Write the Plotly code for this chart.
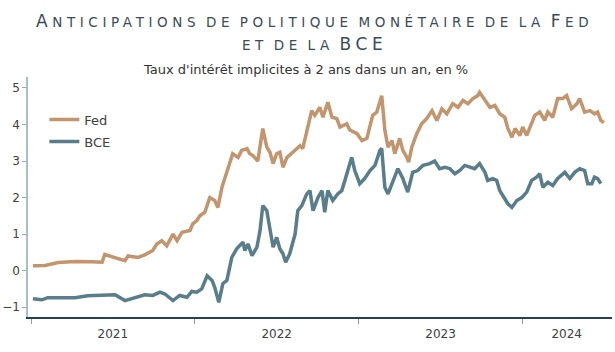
import plotly.graph_objects as go

# ---- data ----
fed_dates = [
    "2021-01-05", "2021-02-01", "2021-03-02", "2021-04-09", "2021-05-16", "2021-06-08", "2021-06-14",
    "2021-06-30", "2021-07-22", "2021-07-29", "2021-08-05", "2021-08-27", "2021-09-11", "2021-09-29",
    "2021-10-08", "2021-10-19", "2021-10-30", "2021-11-13", "2021-11-22", "2021-12-03", "2021-12-21",
    "2021-12-27", "2022-01-05", "2022-01-12", "2022-01-23", "2022-02-03", "2022-02-14", "2022-02-21",
    "2022-03-02", "2022-03-13", "2022-03-20", "2022-03-26", "2022-04-07", "2022-04-15", "2022-04-27",
    "2022-05-03", "2022-05-10", "2022-05-21", "2022-06-01", "2022-06-10", "2022-06-17", "2022-06-24",
    "2022-07-02", "2022-07-09", "2022-07-16", "2022-07-25", "2022-08-07", "2022-08-23", "2022-08-29",
    "2022-09-09", "2022-09-18", "2022-09-25", "2022-10-06", "2022-10-13", "2022-10-24", "2022-11-02",
    "2022-11-13", "2022-11-20", "2022-12-05", "2022-12-12", "2022-12-28", "2023-01-08", "2023-01-19",
    "2023-01-26", "2023-02-01", "2023-02-10", "2023-02-17", "2023-02-21", "2023-02-28", "2023-03-07",
    "2023-03-16", "2023-03-22", "2023-04-02", "2023-04-09", "2023-04-18", "2023-04-22", "2023-04-29",
    "2023-05-10", "2023-05-21", "2023-06-01", "2023-06-13", "2023-06-24", "2023-07-05", "2023-07-16",
    "2023-07-29", "2023-08-10", "2023-08-21", "2023-09-01", "2023-09-12", "2023-09-23", "2023-09-27",
    "2023-10-09", "2023-10-20", "2023-10-31", "2023-11-11", "2023-11-22", "2023-11-29", "2023-12-08",
    "2023-12-15", "2023-12-26", "2024-01-01", "2024-01-10", "2024-01-17", "2024-01-28", "2024-02-08",
    "2024-02-19", "2024-02-26", "2024-03-08", "2024-03-19", "2024-03-30", "2024-04-08", "2024-04-19",
    "2024-05-01", "2024-05-07", "2024-05-18", "2024-05-30", "2024-06-09", "2024-06-16", "2024-06-23",
    "2024-06-30",
]
fed_values = [
    0.13, 0.14, 0.22, 0.25, 0.24, 0.23, 0.44,
    0.38, 0.32, 0.27, 0.40, 0.36, 0.43, 0.55,
    0.73, 0.82, 0.68, 1.00, 0.82, 1.05, 1.10,
    1.28, 1.37, 1.50, 1.60, 2.00, 1.92, 1.73,
    2.28, 2.74, 3.00, 3.20, 3.10, 3.29, 3.34,
    3.20, 3.15, 3.00, 3.89, 3.38, 3.24, 2.93,
    3.20, 3.24, 2.83, 3.10, 3.24, 3.42, 3.34,
    3.93, 4.38, 4.25, 4.47, 4.20, 4.61, 4.20,
    4.16, 3.93, 4.02, 3.85, 3.75, 3.56, 3.62,
    3.97, 4.25, 4.34, 4.66, 4.79, 3.84, 3.38,
    3.56, 3.20, 3.62, 3.29, 3.10, 2.97, 3.38,
    3.75, 4.02, 4.16, 4.38, 4.11, 4.43, 4.29,
    4.57, 4.47, 4.66, 4.57, 4.71, 4.79, 4.88,
    4.66, 4.47, 4.52, 4.29, 4.20, 3.89, 3.65,
    3.89, 3.70, 3.93, 3.70, 3.93, 4.25, 4.34,
    4.11, 4.34, 4.20, 4.71, 4.71, 4.79, 4.43,
    4.57, 4.71, 4.34, 4.38, 4.29, 4.34, 4.11,
    4.05,
]

bce_dates = [
    "2021-01-05", "2021-01-25", "2021-02-07", "2021-03-17", "2021-04-09", "2021-05-07", "2021-06-08",
    "2021-07-07", "2021-07-29", "2021-08-20", "2021-09-11", "2021-09-29", "2021-10-15", "2021-10-26",
    "2021-11-13", "2021-11-28", "2021-12-14", "2021-12-25", "2022-01-05", "2022-01-16", "2022-01-28",
    "2022-02-08", "2022-02-14", "2022-02-23", "2022-03-04", "2022-03-13", "2022-03-24", "2022-04-04",
    "2022-04-11", "2022-04-18", "2022-04-22", "2022-04-29", "2022-05-08", "2022-05-19", "2022-05-26",
    "2022-06-01", "2022-06-10", "2022-06-17", "2022-06-24", "2022-07-02", "2022-07-09", "2022-07-16",
    "2022-07-22", "2022-07-31", "2022-08-12", "2022-08-18", "2022-08-27", "2022-09-07", "2022-09-14",
    "2022-09-21", "2022-10-02", "2022-10-11", "2022-10-17", "2022-10-24", "2022-11-04", "2022-11-15",
    "2022-11-24", "2022-12-01", "2022-12-08", "2022-12-16", "2022-12-23", "2023-01-03", "2023-01-14",
    "2023-01-26", "2023-02-06", "2023-02-17", "2023-02-21", "2023-02-28", "2023-03-07", "2023-03-18",
    "2023-03-29", "2023-04-09", "2023-04-20", "2023-05-01", "2023-05-12", "2023-05-24", "2023-06-08",
    "2023-06-19", "2023-06-30", "2023-07-12", "2023-07-23", "2023-08-03", "2023-08-14", "2023-08-25",
    "2023-09-05", "2023-09-16", "2023-09-27", "2023-10-09", "2023-10-15", "2023-10-26", "2023-11-04",
    "2023-11-11", "2023-11-18", "2023-11-29", "2023-12-08", "2023-12-19", "2023-12-30", "2024-01-10",
    "2024-01-21", "2024-02-01", "2024-02-08", "2024-02-15", "2024-02-26", "2024-03-08", "2024-03-19",
    "2024-04-04", "2024-04-15", "2024-04-26", "2024-05-07", "2024-05-18", "2024-05-25", "2024-06-03",
    "2024-06-09", "2024-06-16", "2024-06-23",
]
bce_values = [
    -0.77, -0.80, -0.74, -0.74, -0.74, -0.69, -0.68,
    -0.66, -0.82, -0.73, -0.66, -0.68, -0.59, -0.64,
    -0.82, -0.68, -0.73, -0.57, -0.59, -0.50, -0.14,
    -0.27, -0.46, -0.87, -0.36, -0.27, 0.36, 0.60,
    0.68, 0.78, 0.55, 0.73, 0.41, 0.64, 1.10,
    1.78, 1.64, 1.10, 0.64, 0.91, 0.60, 0.46,
    0.23, 0.46, 1.00, 1.64, 1.78, 2.10, 2.19,
    1.64, 2.00, 2.19, 1.60, 2.19, 1.92, 2.10,
    2.19, 2.47, 2.74, 3.10, 2.74, 2.38, 2.52,
    2.74, 2.88, 3.29, 3.34, 2.28, 2.10, 2.47,
    2.79, 2.52, 2.15, 2.69, 2.74, 2.88, 2.93,
    3.00, 2.79, 2.83, 2.79, 2.65, 2.74, 2.88,
    2.83, 2.79, 2.93, 2.69, 2.47, 2.52, 2.47,
    2.19, 2.05, 1.83, 1.73, 1.92, 2.00, 2.15,
    2.47, 2.56, 2.65, 2.28, 2.42, 2.33, 2.52,
    2.69, 2.52, 2.69, 2.79, 2.74, 2.38, 2.38,
    2.56, 2.52, 2.38,
]

series_names = ["Fed", "BCE"]
series_colors = ["#c4946c", "#587d8b"]

year_starts = ["2021-01-01", "2022-01-01", "2023-01-01", "2024-01-01"]
year_label_pos = ["2021-07-02", "2022-07-02", "2023-07-02", "2024-04-08"]
year_labels = ["2021", "2022", "2023", "2024"]
x_range = ["2020-12-25", "2024-07-18"]

y_ticks = [-1, 0, 1, 2, 3, 4, 5]
y_range = [-1.27, 5.3]

title_line1 = "Anticipations de politique monétaire de la Fed"
title_line2 = "et de la BCE"
subtitle = "Taux d'intérêt implicites à 2 ans dans un an, en %"

BIG, SMALL, SPACING = 17, 13.5, 4.6


def small_caps(text):
    """Emulate a small-caps face word by word: capitals big, the rest upper-cased smaller."""
    words = []
    for word in text.split(" "):
        html, cur, buf = "", None, ""
        for ch in word:
            size = BIG if ch.isupper() else SMALL
            if size != cur and buf:
                html += f"<span style='font-size:{cur}px;letter-spacing:{SPACING}px'>{buf}</span>"
                buf = ""
            cur = size
            buf += ch.upper()
        if buf:
            html += f"<span style='font-size:{cur}px;letter-spacing:{SPACING}px'>{buf}</span>"
        words.append(html)
    return " ".join(words)


fig = go.Figure()
for name, dates, vals, col, grp in [
    (series_names[0], fed_dates, fed_values, series_colors[0], "g1"),
    (series_names[1], bce_dates, bce_values, series_colors[1], "g2"),
]:
    fig.add_trace(go.Scatter(
        x=dates, y=vals, mode="lines", name=name, legendgroup=grp,
        line=dict(color=col, width=3.5),
    ))

fig.update_layout(
    width=615, height=352,
    margin=dict(l=28, r=3, t=77, b=35),
    paper_bgcolor="white", plot_bgcolor="white",
    font=dict(family="DejaVu Sans", size=12, color="#404040"),
    showlegend=True,
    legend=dict(
        x=0.028, y=0.885, xanchor="left", yanchor="top",
        font=dict(size=13, color="#404040"),
        tracegroupgap=2, bgcolor="rgba(0,0,0,0)", itemwidth=30,
    ),
    annotations=[
        dict(text=small_caps(title_line1) + "<br>" + small_caps(title_line2),
             xref="paper", yref="paper", x=0.49, y=1.0, yanchor="bottom",
             yshift=21, showarrow=False,
             font=dict(family="DejaVu Sans", size=18, color="#3c4b56")),
        dict(text=subtitle, xref="paper", yref="paper", x=0.475, y=1.0,
             yanchor="bottom", yshift=-2, showarrow=False,
             font=dict(family="DejaVu Sans", size=13, color="#333333")),
    ],
)

fig.update_xaxes(
    type="date", range=x_range, showgrid=False, zeroline=False,
    showline=True, linecolor="#22405f", linewidth=1.5,
    tickmode="array", tickvals=year_label_pos, ticktext=year_labels,
    ticks="", ticklabelstandoff=5, tickfont=dict(size=12, color="#404040"),
    minor=dict(tickmode="array", tickvals=year_starts, ticks="outside",
               ticklen=5, tickcolor="#9a9a9a", tickwidth=1),
)
fig.update_yaxes(
    range=y_range, showgrid=False, zeroline=False,
    showline=True, linecolor="#a9bdd2", linewidth=1.5,
    tickmode="array", tickvals=y_ticks, ticks="outside", ticklen=4,
    tickcolor="#9aa9b8", tickfont=dict(size=12, color="#404040"),
)

fig.write_html("out.html")
